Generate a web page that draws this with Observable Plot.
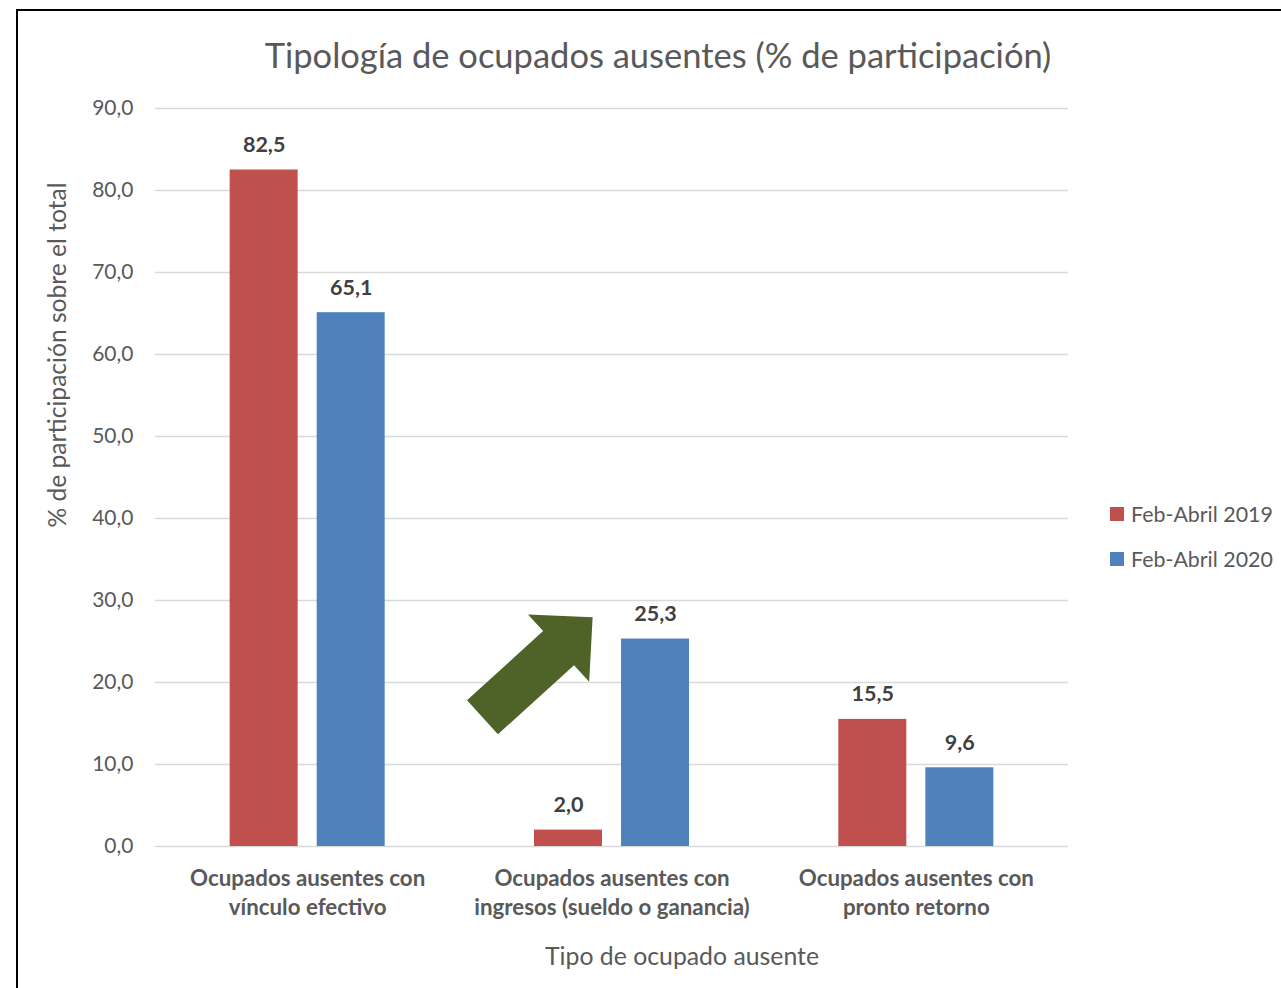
<!DOCTYPE html>
<html>
<head>
<meta charset="utf-8">
<script src="https://cdn.jsdelivr.net/npm/d3@7"></script>
<script src="https://cdn.jsdelivr.net/npm/@observablehq/plot@0.6"></script>
<style>
  html, body { margin: 0; padding: 0; background: #fff; }
  body { font-family: Lato, "Open Sans", sans-serif; color: #595959; }
  #wrap { position: relative; width: 1281px; height: 988px; overflow: hidden; }
  #frame { position: absolute; left: 16px; top: 9px; width: 1300px; height: 1000px; border-top: 2px solid #000; border-left: 2px solid #000; }
  #title { position: absolute; left: 0; width: 1316px; top: 32px; text-align: center; font-size: 34.5px; line-height: 46px; color: #595959; white-space: nowrap; }
  #chart { position: absolute; left: 0; top: 90px; }
  #xtitle { position: absolute; left: 432px; width: 500px; top: 941px; text-align: center; font-size: 24.8px; line-height: 30px; }
  #ytitle { position: absolute; left: 57px; top: 355px; transform: translate(-50%, -50%) rotate(-90deg); font-size: 24.6px; line-height: 30px; white-space: nowrap; }
  .leg { position: absolute; left: 1110px; font-size: 21.4px; line-height: 26px; white-space: nowrap; display: flex; align-items: center; }
  .leg span.sw { display: inline-block; width: 14px; height: 14px; margin-right: 7px; }
</style>
</head>
<body>
<div id="wrap">
  <div id="frame"></div>
  <div id="title">Tipología de ocupados ausentes (% de participación)</div>
  <div id="chart"></div>
  <div id="ytitle">% de participación sobre el total</div>
  <div id="xtitle">Tipo de ocupado ausente</div>
  <div id="legend"></div>
</div>
<script>
// ---- data ----
const categories = [
  "Ocupados ausentes con\nvínculo efectivo",
  "Ocupados ausentes con\ningresos (sueldo o ganancia)",
  "Ocupados ausentes con\npronto retorno"
];
const seriesNames = ["Feb-Abril 2019", "Feb-Abril 2020"];
const values2019 = [82.5, 2.0, 15.5];
const values2020 = [65.1, 25.3, 9.6];
const seriesColors = ["#C0504D", "#4F81BD"];
const yTicks = [0, 10, 20, 30, 40, 50, 60, 70, 80, 90];
// annotation arrow in data space: [category position, value]
const arrowStart = [0.576, 15.7];
const arrowEnd = [0.938, 27.9];

// ---- build table ----
const rows = [];
[values2019, values2020].forEach((vals, s) => {
  vals.forEach((v, i) => rows.push({cat: i, series: s, name: seriesNames[s], value: v}));
});

const fmt = d => d.toFixed(1).replace(".", ",");
const barHalf = 0.1117;   // half bar width in category units
const groupOffset = 0.143; // series offset from category center
const xc = d => d.cat + (d.series === 0 ? -groupOffset : groupOffset);

function blockArrow(index, scales) {
  const x0 = scales.x(arrowStart[0]), y0 = scales.y(arrowStart[1]);
  const x1 = scales.x(arrowEnd[0]), y1 = scales.y(arrowEnd[1]);
  const dx = x1 - x0, dy = y1 - y0, len = Math.hypot(dx, dy);
  const ux = dx / len, uy = dy / len, nx = -uy, ny = ux;
  const sh = 23, hh = 45.5, hl = 46;
  const nxp = x0 + ux * (len - hl), nyp = y0 + uy * (len - hl);
  const pts = [
    [x0 + nx * sh, y0 + ny * sh],
    [nxp + nx * sh, nyp + ny * sh],
    [nxp + nx * hh, nyp + ny * hh],
    [x1, y1],
    [nxp - nx * hh, nyp - ny * hh],
    [nxp - nx * sh, nyp - ny * sh],
    [x0 - nx * sh, y0 - ny * sh]
  ];
  const p = d3.create("svg:path")
    .attr("d", "M" + pts.map(q => q.join(",")).join("L") + "Z")
    .attr("fill", "#4F6228");
  return p.node();
}

const chart = Plot.plot({
  width: 1100,
  height: 898,
  marginLeft: 155,
  marginRight: 32,
  marginTop: 18,
  marginBottom: 142,
  style: {fontFamily: "Lato, 'Open Sans', sans-serif", fontSize: "21px", color: "#595959", background: "transparent", overflow: "visible"},
  x: {domain: [-0.5, 2.5], axis: null},
  y: {domain: [0, 90], axis: null},
  marks: [
    Plot.ruleY(yTicks, {stroke: "#d9d9d9", strokeWidth: 1.5}),
    Plot.axisY({ticks: yTicks, tickSize: 0, tickPadding: 22, tickFormat: fmt, label: null, fontSize: 21, fill: "#595959"}),
    Plot.rectY(rows, {x1: d => xc(d) - barHalf, x2: d => xc(d) + barHalf, y1: 0, y2: "value", fill: d => seriesColors[d.series]}),
    Plot.text(rows, {x: xc, y: "value", text: d => fmt(d.value), dy: -25, fontSize: 21.5, fontWeight: "bold", fill: "#404040"}),
    Plot.text(categories, {x: (d, i) => i, frameAnchor: "bottom", lineAnchor: "top", dy: 19, text: d => d, fontSize: 22.3, fontWeight: "bold", lineHeight: 1.3, fill: "#595959"}),
    blockArrow
  ]
});
document.getElementById("chart").appendChild(chart);

// legend
const legend = document.getElementById("legend");
seriesNames.forEach((n, i) => {
  const div = document.createElement("div");
  div.className = "leg";
  div.style.top = (501 + i * 45) + "px";
  div.innerHTML = `<span class="sw" style="background:${seriesColors[i]}"></span>${n}`;
  legend.appendChild(div);
});
</script>
</body>
</html>
